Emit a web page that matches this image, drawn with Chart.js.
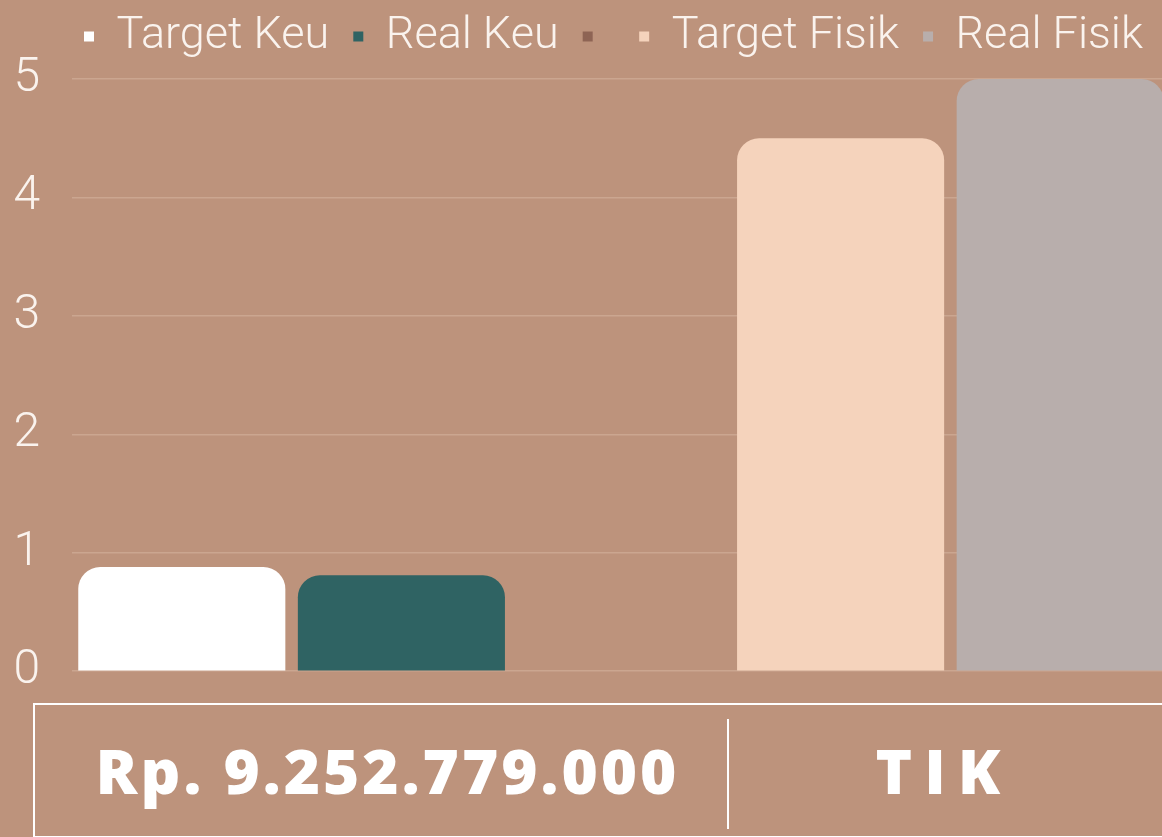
<!DOCTYPE html>
<html>
<head>
<meta charset="utf-8">
<script src="https://cdn.jsdelivr.net/npm/chart.js@4.4.1/dist/chart.umd.min.js"></script>
<style>
    html, body {
        margin: 0;
        padding: 0;
        width: 1162px;
        height: 837px;
        overflow: hidden;
        background: #BD937C;
    }
    #chart-wrap {
        position: absolute;
        left: 0;
        top: -12px;
        width: 1230px;
        height: 744px;
    }
    #info-box {
        position: absolute;
        left: 33px;
        top: 703px;
        width: 1160px;
        height: 131px;
        border-top: 2px solid #fff;
        border-left: 2px solid #fff;
        border-bottom: 2px solid #fff;
        font-family: "Open Sans", sans-serif;
        font-weight: 800;
        color: #fff;
    }
    .cell {
        position: absolute;
        top: 0;
        height: 131px;
        line-height: 131px;
        font-size: 62px;
        letter-spacing: 3px;
        text-align: center;
        box-sizing: border-box;
    }
    #budget { left: 0; width: 692px; padding-left: 13px; }
    #unit { left: 694px; width: 426px; letter-spacing: 12px; padding-left: 4px; }
    #divider {
        position: absolute;
        left: 692px;
        top: 14px;
        height: 110px;
        border-left: 2px solid #fff;
    }
</style>
</head>
<body>
<div id="chart-wrap"><canvas id="bar-chart"></canvas></div>
<div id="info-box">
    <div class="cell" id="budget"></div>
    <div id="divider"></div>
    <div class="cell" id="unit"></div>
</div>
<script>
// Chart data
const categories = ['TIK'];
const seriesLabels = ['Target Keu', 'Real Keu', '', 'Target Fisik', 'Real Fisik'];
const seriesValues = [[0.88], [0.81], [0], [4.5], [5]];
const seriesColors = ['#FFFFFF', '#2F6363', '#8E6454', '#F5D3BC', '#B8AEAC'];
const yTicks = [0, 1, 2, 3, 4, 5];
const budgetText = 'Rp. 9.252.779.000';

document.getElementById('budget').textContent = budgetText;
document.getElementById('unit').textContent = categories[0];

const datasets = seriesLabels.map((label, i) => ({
    label: label,
    data: seriesValues[i],
    backgroundColor: seriesColors[i],
    borderWidth: 0,
    borderRadius: 22,
    borderSkipped: 'start',
    barPercentage: 0.943,
    categoryPercentage: 1
}));

// extra room under the legend, and nudge it right like the original
const legendTweak = {
    id: 'legendTweak',
    beforeInit(chart) {
        const fit = chart.legend.fit;
        chart.legend.fit = function() {
            fit.bind(chart.legend)();
            this.height += 10;
        };
    },
    afterLayout(chart) {
        chart.legend.left += 22;
        chart.legend.right += 22;
    }
};

const ctx = document.getElementById('bar-chart').getContext('2d');
new Chart(ctx, {
    type: 'bar',
    data: {
        labels: categories,
        datasets: datasets
    },
    plugins: [legendTweak],
    options: {
        responsive: true,
        maintainAspectRatio: false,
        animation: false,
        layout: {
            padding: { top: 2, right: 60, bottom: 8, left: 13 }
        },
        plugins: {
            legend: {
                position: 'top',
                labels: {
                    color: '#FAF3EE',
                    usePointStyle: true,
                    pointStyle: 'rect',
                    boxWidth: 10,
                    boxHeight: 10,
                    padding: 24,
                    font: { family: 'Roboto', size: 45, weight: '300' }
                }
            },
            tooltip: { enabled: false }
        },
        scales: {
            x: {
                display: false
            },
            y: {
                min: yTicks[0],
                max: yTicks[yTicks.length - 1],
                afterFit: function(axis) {
                    axis.width = 59;
                },
                border: { display: false },
                grid: {
                    color: 'rgba(255, 235, 220, 0.22)',
                    lineWidth: 1.5,
                    drawTicks: false
                },
                ticks: {
                    stepSize: 1,
                    color: '#FAF3EE',
                    padding: 32,
                    font: { family: 'Roboto', size: 48, weight: '300' }
                }
            }
        }
    }
});
</script>
</body>
</html>
